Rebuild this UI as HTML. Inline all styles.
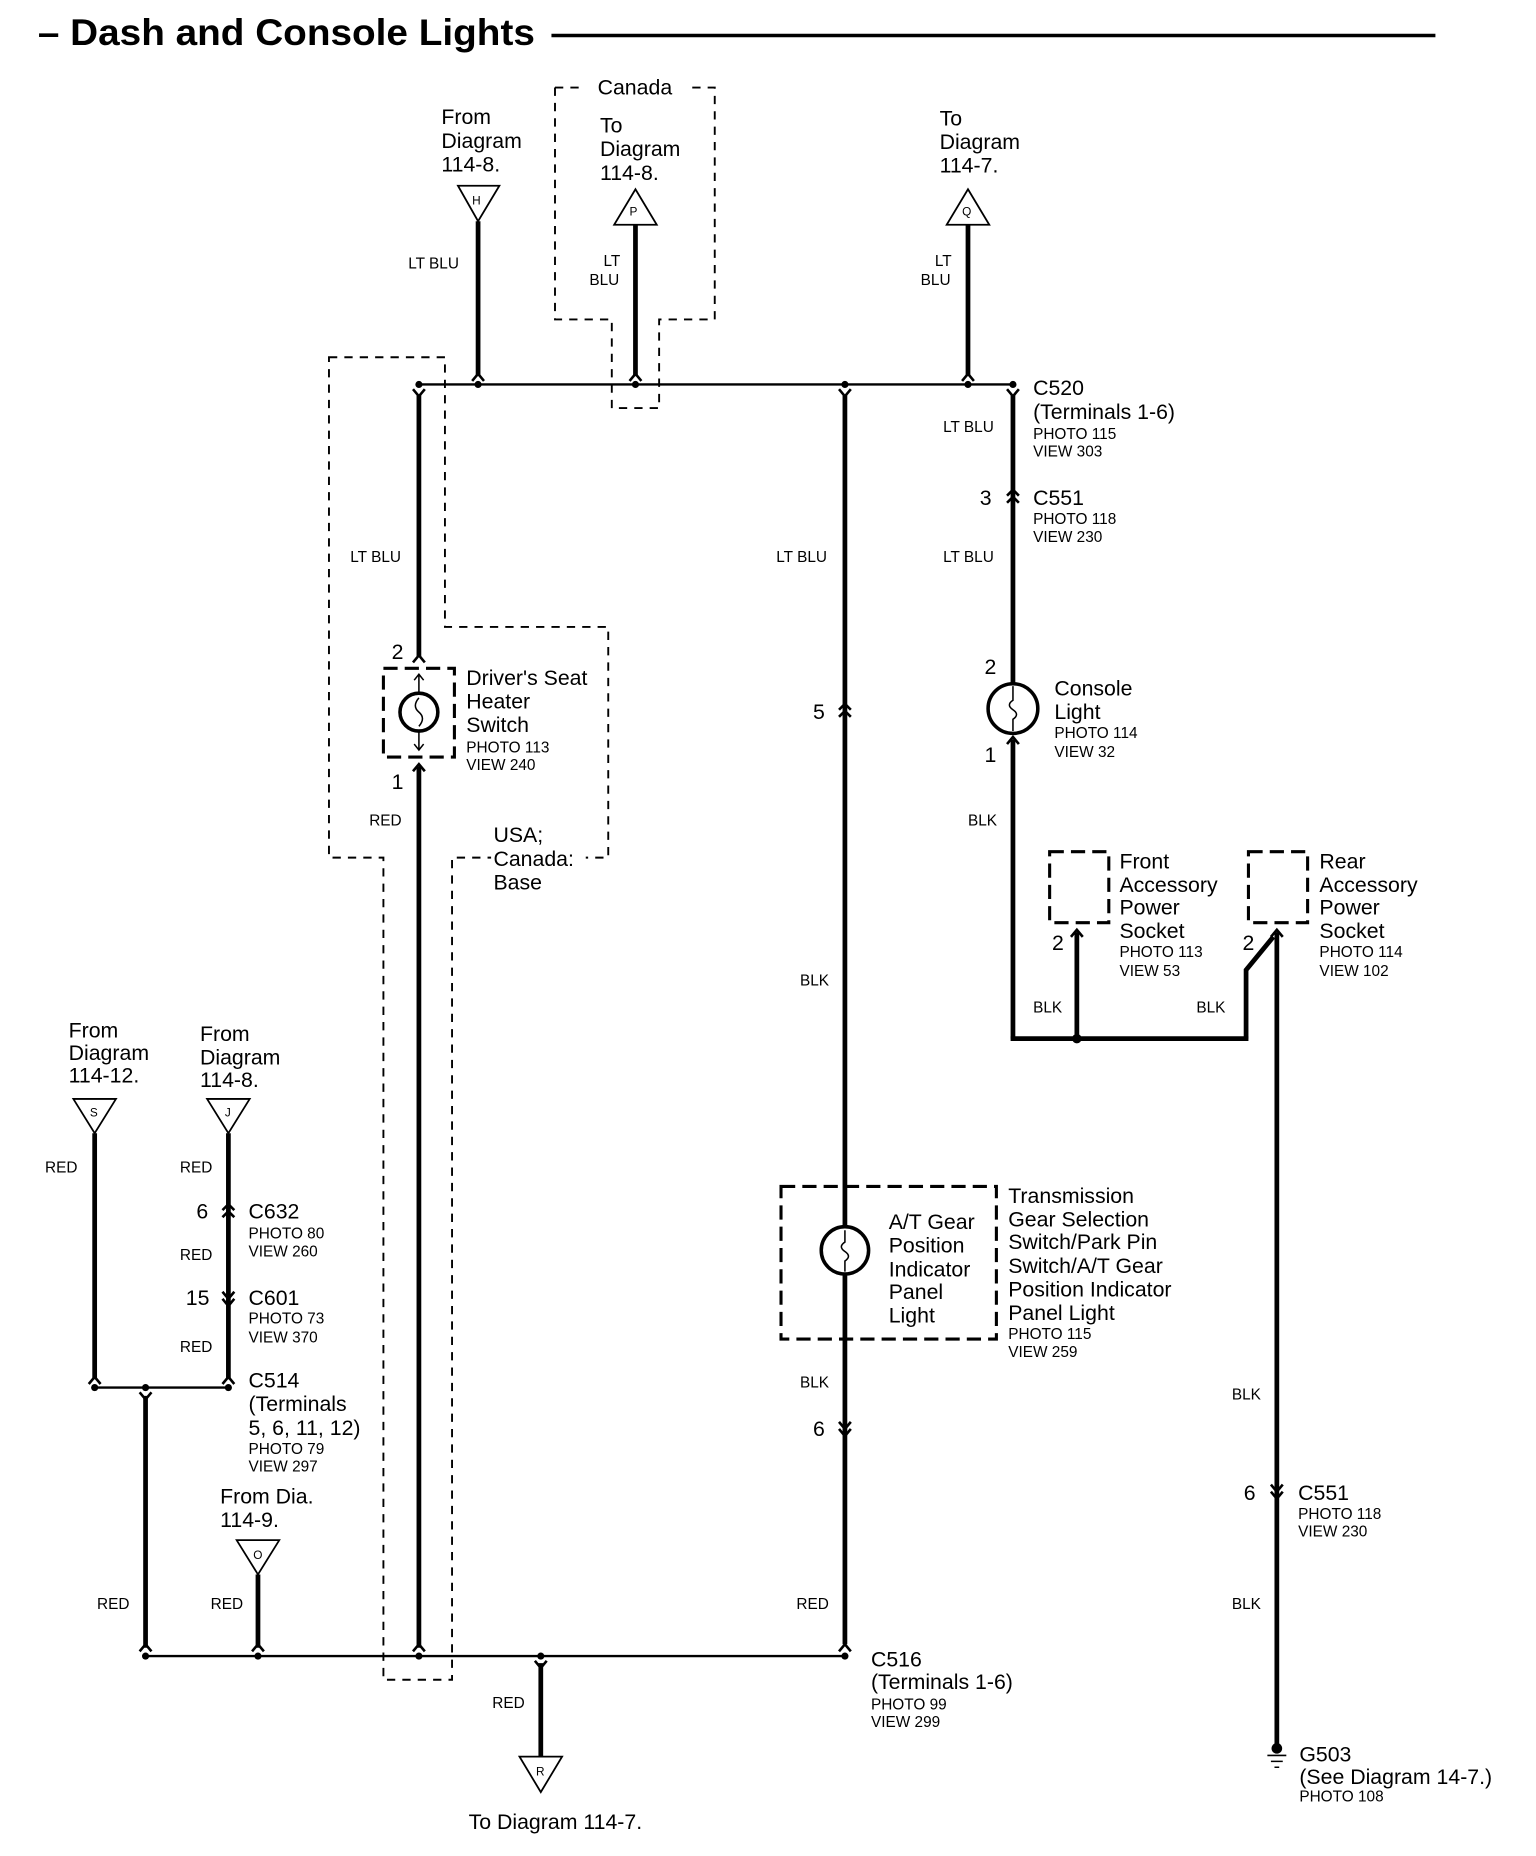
<!DOCTYPE html>
<html><head><meta charset="utf-8"><style>
html,body{margin:0;padding:0;background:#fff;}
svg{display:block;}
text{font-family:"Liberation Sans",Arial,sans-serif;fill:#000;}
.b{font-size:18px;}
.s{font-size:13px;}
.w{stroke:#000;stroke-width:4;fill:none;}
.t{stroke:#000;stroke-width:2;fill:none;}
.d{stroke:#000;stroke-width:1.6;fill:none;stroke-dasharray:7,6;}
.dd{stroke:#000;stroke-width:2.6;fill:none;stroke-dasharray:12,6;}
.c{stroke:#000;stroke-width:2.2;fill:none;}
</style></head><body>
<svg width="1536" height="1856" viewBox="0 0 1298 1569" preserveAspectRatio="none" xmlns="http://www.w3.org/2000/svg">
<!-- title -->
<text x="32" y="38" textLength="420" lengthAdjust="spacingAndGlyphs" style="font-size:31px;font-weight:bold">– Dash and Console Lights</text>
<line x1="466" y1="30" x2="1213" y2="30" stroke="#000" stroke-width="3"/>

<!-- top bus -->
<line class="t" x1="354" y1="325" x2="856" y2="325"/>
<g fill="#000"><circle cx="354" cy="325" r="3"/><circle cx="404" cy="325" r="3"/><circle cx="537" cy="325" r="3"/><circle cx="714" cy="325" r="3"/><circle cx="818" cy="325" r="3"/><circle cx="856" cy="325" r="3"/></g>

<!-- H -->
<text class="b" x="373" y="105">From</text><text class="b" x="373" y="125">Diagram</text><text class="b" x="373" y="145">114-8.</text>
<polygon points="387,157 422,157 404,187" fill="#fff" stroke="#000" stroke-width="1.5"/><text x="399" y="173" style="font-size:10px">H</text>
<line class="w" x1="404" y1="187" x2="404" y2="318"/>
<path class="c" d="M399,322 L404,316 L409,322"/>
<text class="s" x="345" y="227">LT BLU</text>

<!-- Canada -->
<path class="d" d="M469,74 L490,74"/>
<path class="d" d="M585,74 L604,74 L604,270 L557,270 L557,345 L517,345 L517,270 L469,270 L469,74"/>
<text class="b" x="505" y="80">Canada</text>
<text class="b" x="507" y="112">To</text><text class="b" x="507" y="132">Diagram</text><text class="b" x="507" y="152">114-8.</text>
<polygon points="537,160 555,190 519,190" fill="#fff" stroke="#000" stroke-width="1.5"/><text x="532" y="182" style="font-size:10px">P</text>
<line class="w" x1="537" y1="190" x2="537" y2="318"/>
<path class="c" d="M532,322 L537,316 L542,322"/>
<text class="s" x="510" y="225">LT</text><text class="s" x="498" y="241">BLU</text>

<!-- Q -->
<text class="b" x="794" y="106">To</text><text class="b" x="794" y="126">Diagram</text><text class="b" x="794" y="146">114-7.</text>
<polygon points="818,160 836,190 800,190" fill="#fff" stroke="#000" stroke-width="1.5"/><text x="813" y="182" style="font-size:10px">Q</text>
<line class="w" x1="818" y1="190" x2="818" y2="318"/>
<path class="c" d="M813,322 L818,316 L823,322"/>
<text class="s" x="790" y="225">LT</text><text class="s" x="778" y="241">BLU</text>

<!-- Driver's seat region dashed box -->
<path class="d" d="M278,302 L376,302 L376,530 L514,530 L514,725 L382,725 L382,1420 L324,1420 L324,725 L278,725 Z"/>
<line class="w" x1="354" y1="334" x2="354" y2="555"/>
<path class="c" d="M349,329 L354,335 L359,329"/>
<path class="c" d="M349,560 L354,554 L359,560"/>
<text class="s" x="296" y="475">LT BLU</text>
<text class="b" x="331" y="557">2</text>
<rect class="dd" x="324" y="565" width="60" height="75"/>
<circle cx="354" cy="602" r="16" stroke="#000" stroke-width="3" fill="none"/>
<path d="M354,570 L354,586 M350,575 L354,570 L358,575 M354,618 L354,634 M350,629 L354,634 L358,629 M354,590 Q348,597 354,602 Q360,607 354,614" stroke="#000" stroke-width="1.3" fill="none"/>
<path class="c" d="M349,652 L354,646 L359,652"/>
<line class="w" x1="354" y1="648" x2="354" y2="1393"/>
<text class="b" x="331" y="667">1</text>
<text class="s" x="312" y="698">RED</text>
<text class="b" x="394" y="579">Driver's Seat</text><text class="b" x="394" y="599">Heater</text><text class="b" x="394" y="619">Switch</text>
<text class="s" x="394" y="636">PHOTO 113</text><text class="s" x="394" y="651">VIEW 240</text>
<rect x="415" y="718" width="80" height="18" fill="#fff"/>
<text class="b" x="417" y="712">USA;</text><text class="b" x="417" y="732">Canada:</text><text class="b" x="417" y="752">Base</text>

<!-- middle wire -->
<path class="c" d="M709,329 L714,335 L719,329"/>
<line class="w" x1="714" y1="334" x2="714" y2="1390"/>
<path class="c" d="M709,600 L714,595 L719,600 M709,606 L714,601 L719,606"/>
<text class="b" x="687" y="608">5</text>
<text class="s" x="656" y="475">LT BLU</text>
<text class="s" x="676" y="833">BLK</text>
<rect class="dd" x="660" y="1003" width="182" height="129"/>
<circle cx="714" cy="1057" r="20" fill="#fff" stroke="#000" stroke-width="3"/>
<path d="M714,1040 L714,1050 Q708,1054 714,1058 Q720,1062 714,1066 L714,1075" stroke="#000" stroke-width="1.3" fill="none"/>
<text class="b" x="751" y="1039">A/T Gear</text><text class="b" x="751" y="1059">Position</text><text class="b" x="751" y="1079">Indicator</text><text class="b" x="751" y="1098">Panel</text><text class="b" x="751" y="1118">Light</text>
<text class="b" x="852" y="1017">Transmission</text><text class="b" x="852" y="1037">Gear Selection</text><text class="b" x="852" y="1056">Switch/Park Pin</text><text class="b" x="852" y="1076">Switch/A/T Gear</text><text class="b" x="852" y="1096">Position Indicator</text><text class="b" x="852" y="1116">Panel Light</text>
<text class="s" x="852" y="1132">PHOTO 115</text><text class="s" x="852" y="1147">VIEW 259</text>
<text class="s" x="676" y="1173">BLK</text>
<path class="c" d="M709,1202 L714,1208 L719,1202 M709,1208 L714,1214 L719,1208"/>
<text class="b" x="687" y="1214">6</text>
<text class="s" x="673" y="1360">RED</text>
<path class="c" d="M709,1396 L714,1390 L719,1396"/>

<!-- right wire -->
<path class="c" d="M851,329 L856,335 L861,329"/>
<line class="w" x1="856" y1="334" x2="856" y2="578"/>
<text class="b" x="873" y="334">C520</text><text class="b" x="873" y="354">(Terminals 1-6)</text>
<text class="s" x="873" y="371">PHOTO 115</text><text class="s" x="873" y="386">VIEW 303</text>
<text class="s" x="797" y="365">LT BLU</text>
<path class="c" d="M851,419 L856,414 L861,419 M851,425 L856,420 L861,425"/>
<text class="b" x="828" y="427">3</text>
<text class="b" x="873" y="427">C551</text><text class="s" x="873" y="443">PHOTO 118</text><text class="s" x="873" y="458">VIEW 230</text>
<text class="s" x="797" y="475">LT BLU</text>
<text class="b" x="832" y="570">2</text>
<path class="c" d="M851,583 L856,577 L861,583"/>
<circle cx="856" cy="599" r="21" fill="#fff" stroke="#000" stroke-width="3"/>
<path d="M856,580 L856,592 Q850,596 856,600 Q862,604 856,608 L856,618" stroke="#000" stroke-width="1.3" fill="none"/>
<path class="c" d="M851,629 L856,623 L861,629"/>
<line class="w" x1="856" y1="625" x2="856" y2="878"/>
<text class="b" x="832" y="644">1</text>
<text class="b" x="891" y="588">Console</text><text class="b" x="891" y="608">Light</text>
<text class="s" x="891" y="624">PHOTO 114</text><text class="s" x="891" y="640">VIEW 32</text>
<text class="s" x="818" y="698">BLK</text>

<!-- sockets -->
<rect class="dd" x="887" y="720" width="50" height="60"/>
<path class="c" d="M905,792 L910,786 L915,792"/>
<line class="w" x1="910" y1="788" x2="910" y2="878"/>
<text class="b" x="889" y="803">2</text>
<text class="b" x="946" y="734">Front</text><text class="b" x="946" y="754">Accessory</text><text class="b" x="946" y="773">Power</text><text class="b" x="946" y="793">Socket</text>
<text class="s" x="946" y="809">PHOTO 113</text><text class="s" x="946" y="825">VIEW 53</text>
<rect class="dd" x="1055" y="720" width="50" height="60"/>
<path class="c" d="M1074,792 L1079,786 L1084,792"/>
<path class="w" d="M1053,878 L1053,820 L1076,792"/>
<line class="w" x1="1079" y1="788" x2="1079" y2="1474"/>
<text class="b" x="1050" y="803">2</text>
<text class="b" x="1115" y="734">Rear</text><text class="b" x="1115" y="754">Accessory</text><text class="b" x="1115" y="773">Power</text><text class="b" x="1115" y="793">Socket</text>
<text class="s" x="1115" y="809">PHOTO 114</text><text class="s" x="1115" y="825">VIEW 102</text>
<line class="w" x1="854" y1="878" x2="1055" y2="878"/>
<circle cx="910" cy="878" r="4" fill="#000"/>
<text class="s" x="873" y="856">BLK</text><text class="s" x="1011" y="856">BLK</text>
<text class="s" x="1041" y="1183">BLK</text>
<path class="c" d="M1074,1255 L1079,1261 L1084,1255 M1074,1261 L1079,1267 L1084,1261"/>
<text class="b" x="1051" y="1268">6</text>
<text class="b" x="1097" y="1268">C551</text><text class="s" x="1097" y="1284">PHOTO 118</text><text class="s" x="1097" y="1299">VIEW 230</text>
<text class="s" x="1041" y="1360">BLK</text>
<circle cx="1079" cy="1478" r="4.5" fill="#000"/>
<path d="M1071,1484 L1087,1484 M1074,1489 L1084,1489 M1077,1494 L1081,1494" stroke="#000" stroke-width="1.3"/>
<text class="b" x="1098" y="1489">G503</text><text class="b" x="1098" y="1508">(See Diagram 14-7.)</text><text class="s" x="1098" y="1523">PHOTO 108</text>

<!-- bottom left -->
<text class="b" x="58" y="877">From</text><text class="b" x="58" y="896">Diagram</text><text class="b" x="58" y="915">114-12.</text>
<text class="b" x="169" y="880">From</text><text class="b" x="169" y="900">Diagram</text><text class="b" x="169" y="919">114-8.</text>
<polygon points="62,929 98,929 80,958" fill="#fff" stroke="#000" stroke-width="1.5"/><text x="76" y="944" style="font-size:10px">S</text>
<polygon points="175,929 211,929 193,958" fill="#fff" stroke="#000" stroke-width="1.5"/><text x="190" y="944" style="font-size:10px">J</text>
<line class="w" x1="80" y1="958" x2="80" y2="1166"/>
<line class="w" x1="193" y1="958" x2="193" y2="1166"/>
<text class="s" x="38" y="991">RED</text><text class="s" x="152" y="991">RED</text>
<path class="c" d="M188,1023 L193,1018 L198,1023 M188,1029 L193,1024 L198,1029"/>
<text class="b" x="166" y="1030">6</text>
<text class="b" x="210" y="1030">C632</text><text class="s" x="210" y="1047">PHOTO 80</text><text class="s" x="210" y="1062">VIEW 260</text>
<text class="s" x="152" y="1065">RED</text>
<path class="c" d="M188,1092 L193,1098 L198,1092 M188,1098 L193,1104 L198,1098"/>
<text class="b" x="157" y="1103">15</text>
<text class="b" x="210" y="1103">C601</text><text class="s" x="210" y="1119">PHOTO 73</text><text class="s" x="210" y="1135">VIEW 370</text>
<text class="s" x="152" y="1143">RED</text>
<path class="c" d="M75,1170 L80,1164 L85,1170 M188,1170 L193,1164 L198,1170"/>
<line class="t" x1="80" y1="1173" x2="193" y2="1173"/>
<g fill="#000"><circle cx="80" cy="1173" r="3"/><circle cx="123" cy="1173" r="3"/><circle cx="193" cy="1173" r="3"/></g>
<path class="c" d="M118,1177 L123,1183 L128,1177"/>
<line class="w" x1="123" y1="1180" x2="123" y2="1393"/>
<text class="b" x="210" y="1173">C514</text><text class="b" x="210" y="1193">(Terminals</text><text class="b" x="210" y="1213">5, 6, 11, 12)</text>
<text class="s" x="210" y="1229">PHOTO 79</text><text class="s" x="210" y="1244">VIEW 297</text>
<text class="b" x="186" y="1271">From Dia.</text><text class="b" x="186" y="1291">114-9.</text>
<polygon points="200,1302 236,1302 218,1331" fill="#fff" stroke="#000" stroke-width="1.5"/><text x="214" y="1318" style="font-size:10px">O</text>
<line class="w" x1="218" y1="1331" x2="218" y2="1393"/>
<text class="s" x="82" y="1360">RED</text><text class="s" x="178" y="1360">RED</text>
<path class="c" d="M118,1396 L123,1390 L128,1396 M213,1396 L218,1390 L223,1396 M349,1396 L354,1390 L359,1396"/>

<!-- bottom bus -->
<line class="t" x1="123" y1="1400" x2="714" y2="1400"/>
<g fill="#000"><circle cx="123" cy="1400" r="3"/><circle cx="218" cy="1400" r="3"/><circle cx="354" cy="1400" r="3"/><circle cx="457" cy="1400" r="3"/><circle cx="714" cy="1400" r="3"/></g>
<path class="c" d="M452,1404 L457,1410 L462,1404"/>
<line class="w" x1="457" y1="1406" x2="457" y2="1485"/>
<polygon points="439,1485 475,1485 457,1515" fill="#fff" stroke="#000" stroke-width="1.5"/><text x="453" y="1501" style="font-size:10px">R</text>
<text class="s" x="416" y="1444">RED</text>
<text class="b" x="396" y="1546">To Diagram 114-7.</text>
<text class="b" x="736" y="1409">C516</text><text class="b" x="736" y="1428">(Terminals 1-6)</text>
<text class="s" x="736" y="1445">PHOTO 99</text><text class="s" x="736" y="1460">VIEW 299</text>
</svg>
</body></html>
